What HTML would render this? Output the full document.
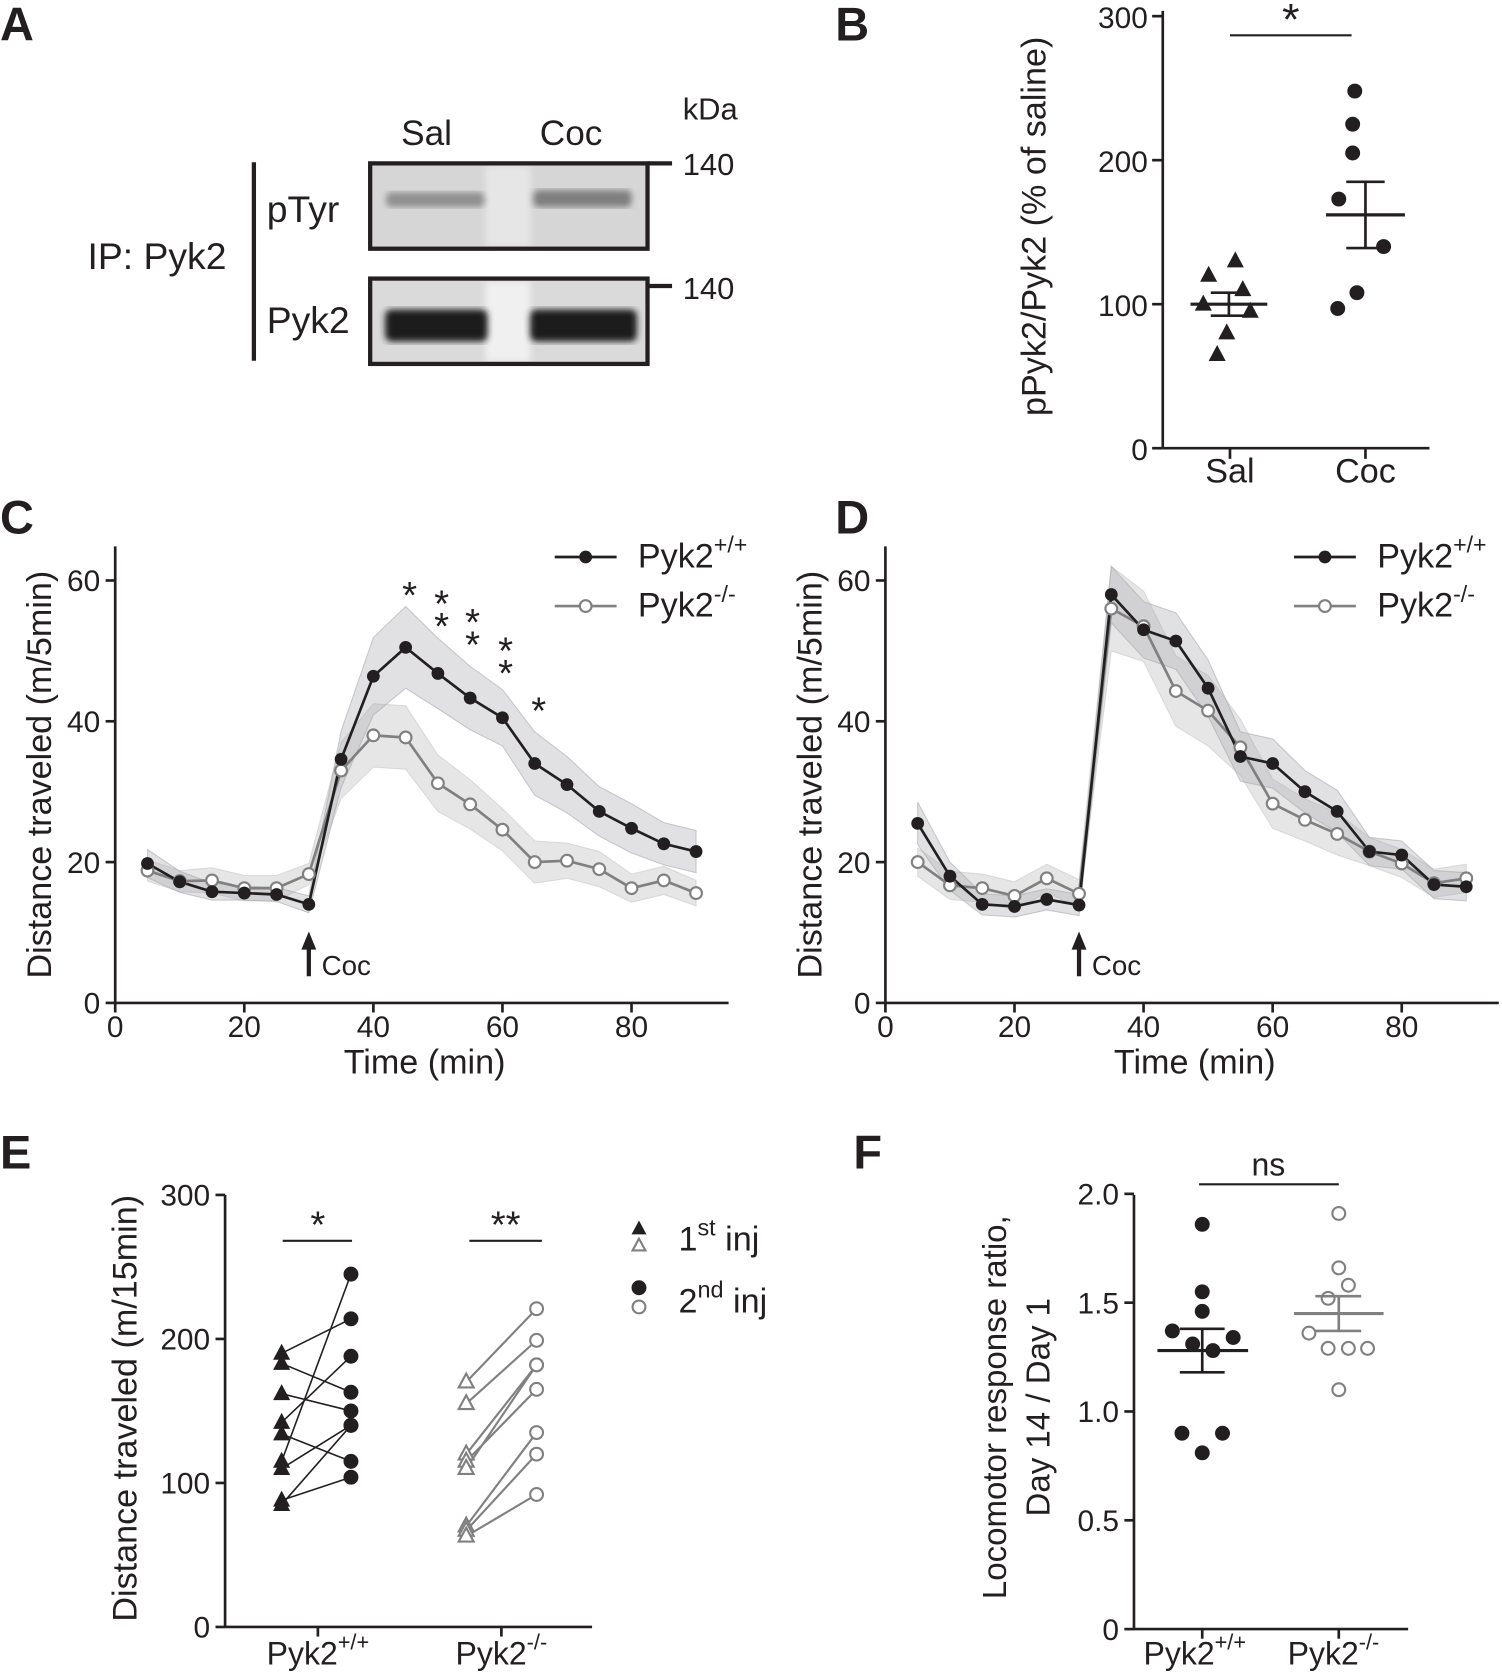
<!DOCTYPE html><html><head><meta charset="utf-8"><style>html,body{margin:0;padding:0;background:#fff}svg{display:block}text{font-family:"Liberation Sans",Arial,sans-serif;fill:#231f20}</style></head><body>
<svg id="s" width="1502" height="1673" viewBox="0 0 1408 1568" xmlns="http://www.w3.org/2000/svg">
<defs>
<filter id="bl"><feGaussianBlur stdDeviation="3"/></filter>
</defs>
<g font-weight="bold" font-size="44">
<text x="0" y="38">A</text><text x="783" y="38">B</text><text x="0" y="500">C</text><text x="783" y="500">D</text><text x="0" y="1095">E</text><text x="800" y="1095">F</text>
</g>
<!-- Panel A -->
<g font-size="33">
<text x="376" y="136">Sal</text><text x="506" y="136">Coc</text><text x="640" y="112" font-size="29">kDa</text>
<text x="640" y="164" font-size="29">140</text><text x="640" y="280" font-size="29">140</text>
<text x="82" y="252" font-size="35">IP: Pyk2</text><text x="250" y="208" font-size="35">pTyr</text><text x="250" y="312" font-size="35">Pyk2</text>
</g>
<line x1="238" y1="152" x2="238" y2="338" stroke="#231f20" stroke-width="4"/>
<rect x="347" y="153" width="260" height="80" fill="#d6d6d6"/>
<rect x="455" y="156" width="42" height="75" fill="#e6e6e6" filter="url(#bl)"/>
<rect x="362" y="180" width="92" height="14" fill="#909090" rx="5" filter="url(#bl)"/><rect x="500" y="178" width="92" height="16" fill="#7f7f7f" rx="5" filter="url(#bl)"/>
<rect x="347" y="153" width="260" height="80" fill="none" stroke="#231f20" stroke-width="4"/>
<rect x="347" y="261" width="260" height="80" fill="#dadada"/>
<rect x="455" y="264" width="42" height="75" fill="#f0f0f0" filter="url(#bl)"/>
<rect x="361" y="290" width="96" height="30" fill="#1e1e1e" rx="6" filter="url(#bl)"/><rect x="497" y="290" width="100" height="30" fill="#1e1e1e" rx="6" filter="url(#bl)"/>
<rect x="347" y="261" width="260" height="80" fill="none" stroke="#231f20" stroke-width="4"/>
<line x1="607" y1="153" x2="630" y2="153" stroke="#231f20" stroke-width="4"/><line x1="607" y1="268" x2="630" y2="268" stroke="#231f20" stroke-width="4"/>
<g id="plots" stroke-linecap="butt"></g>
</svg>
<script>
const NS="http://www.w3.org/2000/svg",g=document.getElementById("plots");
function el(t,a,txt){const e=document.createElementNS(NS,t);for(const k in a)e.setAttribute(k,a[k]);if(txt!==undefined)e.textContent=txt;g.appendChild(e);return e;}
function line(x1,y1,x2,y2,c="#231f20",w=2.5){el("line",{x1,y1,x2,y2,stroke:c,"stroke-width":w});}
function txt(x,y,s,fs=28,anchor="middle",rot){const a={x,y,"font-size":fs,"text-anchor":anchor};if(rot)a.transform=`rotate(-90 ${x} ${y})`;return el("text",a,s);}
function sup(x,y,base,sp,fs,anchor){const t=el("text",{x,y,"font-size":fs,"text-anchor":anchor});t.innerHTML=base+`<tspan dy="-14" font-size="${fs*0.68}">${sp}</tspan>`;}
// ---- Panel B
(function(){const X=1090,Y0=420,k=1.35,Y=v=>Y0-v*k;
line(X,10,X,Y0);line(X,Y0,1340,Y0);
[0,100,200,300].forEach(v=>{line(X-10,Y(v),X,Y(v));txt(X-14,Y(v)+11,v,28,"end");});
line(1153,Y0,1153,Y0+10);line(1280,Y0,1280,Y0+10);
txt(1153,452,"Sal",32);txt(1280,452,"Coc",32);
txt(980,212,"pPyk2/Pyk2 (% of saline)",32,"middle",1);
line(1153,33,1267,33,"#231f20",2);txt(1210,32,"*",42);
const tri=[[1158,130],[1133,120],[1165,110],[1128,100],[1172,95],[1150,80],[1141,65]];
tri.forEach(([x,v])=>{const y=Y(v);el("polygon",{points:`${x},${y-9} ${x-8},${y+6} ${x+8},${y+6}`,fill:"#231f20"});});
[[1270,248],[1268,225],[1268,205],[1255,173],[1297,140],[1272,108],[1254,97]].forEach(([x,v])=>el("circle",{cx:x,cy:Y(v),r:7,fill:"#231f20"}));
line(1116,Y(100),1188,Y(100),"#231f20",3);line(1135,Y(92),1169,Y(92));line(1135,Y(108),1169,Y(108));line(1152,Y(92),1152,Y(108));
line(1243,Y(162),1317,Y(162),"#231f20",3);line(1262,Y(139),1298,Y(139));line(1262,Y(185),1298,Y(185));line(1280,Y(139),1280,Y(185));
})();
// ---- Panels C & D
function tc(X0,b,gr,bb,gb,stars,legX){const Y0=940,kx=6.05,ky=6.6,X=m=>X0+m*kx,Y=v=>Y0-v*ky,xe=X0+575;
const ts=b.map((_,i)=>5+5*i);
function band(d,w,col,op){const up=d.map((v,i)=>`${X(ts[i])},${Y(v+w[i])}`),lo=d.map((v,i)=>`${X(ts[i])},${Y(v-w[i])}`).reverse();el("polygon",{points:up.concat(lo).join(" "),fill:col,"fill-opacity":op,stroke:col,"stroke-opacity":0.6});}
band(gr,gb,"#c8c8c8",0.45);band(b,bb,"#a8aab0",0.35);
el("polyline",{points:gr.map((v,i)=>`${X(ts[i])},${Y(v)}`).join(" "),fill:"none",stroke:"#808080","stroke-width":2.5});
el("polyline",{points:b.map((v,i)=>`${X(ts[i])},${Y(v)}`).join(" "),fill:"none",stroke:"#231f20","stroke-width":2.5});
gr.forEach((v,i)=>el("circle",{cx:X(ts[i]),cy:Y(v),r:5.5,fill:"#fff",stroke:"#808080","stroke-width":2}));
b.forEach((v,i)=>el("circle",{cx:X(ts[i]),cy:Y(v),r:6,fill:"#231f20"}));
line(X0,512,X0,Y0);line(X0,Y0,xe,Y0);
[0,20,40,60,80].forEach(m=>{line(X(m),Y0,X(m),Y0+9);txt(X(m),Y0+32,m,28);});
[0,20,40,60].forEach(v=>{line(X0-9,Y(v),X0,Y(v));txt(X0-14,Y(v)+10,v,28,"end");});
txt(X0+290,1006,"Time (min)",32);txt(X0-60,726,"Distance traveled (m/5min)",32,"middle",1);
el("polygon",{points:`${X(30)},873 ${X(30)-7},890 ${X(30)+7},890`,fill:"#231f20"});line(X(30),885,X(30),915,"#231f20",4);
txt(X(30)+12,914,"Coc",26,"start");
stars.forEach(([x,y])=>txt(x,y,"*",36));
line(legX,522,legX+58,522,"#231f20",2.5);el("circle",{cx:legX+29,cy:522,r:6,fill:"#231f20"});
line(legX,568,legX+58,568,"#808080",2.5);el("circle",{cx:legX+29,cy:568,r:5.5,fill:"#fff",stroke:"#808080","stroke-width":2});
sup(legX+78,532,"Pyk2","+/+",32,"start");sup(legX+78,578,"Pyk2","-/-",32,"start");}
tc(108,[19.8,17.2,15.8,15.6,15.4,14,34.6,46.4,50.5,46.8,43.3,40.5,34,31,27.2,24.8,22.6,21.5],
[18.8,17.3,17.4,16.3,16.3,18.3,33,38,37.7,31.2,28.2,24.6,20,20.2,19,16.3,17.4,15.6],
[2,1.5,1.2,1,1,1.2,4,5.5,5.8,5,4.5,4,4.5,4,3.5,3.5,3,3],
[1.5,1.5,1.8,1.8,1.8,1.5,4,4.5,4.5,4,3.5,3,3,2.5,2.5,2,2,1.8],
[[384,570],[414,578],[414,599],[443,595],[443,616],[474,622],[474,643],[505,678]],520);
tc(830,[25.5,18,14,13.7,14.7,13.9,58,53,51.4,44.7,35,34,30,27.2,21.5,21,16.8,16.5],
[20,16.7,16.3,15.2,17.7,15.5,56,53.5,44.3,41.5,36.3,28.3,26,24,21.5,19.8,17,17.7],
[3,2,1.5,1.5,1.5,1.5,4,4,4,4,3.5,3.5,3,3,2,2,2,2],
[2,2,2,2,2,2,6,5,5,5,4,3.5,3,3,2,2,2,2],[],1213);
// ---- Panel E
(function(){const X=211,Y0=1525,k=1.35,Y=v=>Y0-v*k;
line(X,1120,X,Y0);line(X,Y0,555,Y0);
[0,100,200,300].forEach(v=>{line(X-9,Y(v),X,Y(v));txt(X-14,Y(v)+10,v,28,"end");});
line(298,Y0,298,Y0+9);line(470,Y0,470,Y0+9);
sup(298,1560,"Pyk2","+/+",30,"middle");sup(470,1560,"Pyk2","-/-",30,"middle");
txt(128,1320,"Distance traveled (m/15min)",32,"middle",1);
line(265,1163,330,1163,"#231f20",2);txt(298,1160,"*",36);line(440,1163,508,1163,"#231f20",2);txt(474,1160,"**",36);
const A=[[190,214],[183,163],[162,150],[142,188],[134,115],[115,245],[110,140],[88,104],[85,140]];
A.forEach(([a,b])=>line(264,Y(a),329,Y(b),"#231f20",1.5));
A.forEach(([a,b])=>{const y=Y(a);el("polygon",{points:`264,${y-9} 256,${y+6} 272,${y+6}`,fill:"#231f20"});el("circle",{cx:329,cy:Y(b),r:7,fill:"#231f20"});});
const B=[[170,221],[155,199],[120,182],[115,165],[110,182],[70,135],[67,120],[63,92]];
B.forEach(([a,b])=>line(437,Y(a),503,Y(b),"#808080",2));
B.forEach(([a,b])=>{const y=Y(a);el("polygon",{points:`437,${y-8} 430,${y+5} 444,${y+5}`,fill:"#fff",stroke:"#808080","stroke-width":2});el("circle",{cx:503,cy:Y(b),r:6,fill:"#fff",stroke:"#808080","stroke-width":2});});
el("polygon",{points:"599,1144 592,1157 606,1157",fill:"#231f20"});el("polygon",{points:"599,1161 593,1172 605,1172",fill:"#fff",stroke:"#808080","stroke-width":2});
el("circle",{cx:599,cy:1207,r:7,fill:"#231f20"});el("circle",{cx:599,cy:1225,r:6,fill:"#fff",stroke:"#808080","stroke-width":2});
const t1=el("text",{x:636,y:1172,"font-size":32});t1.innerHTML='1<tspan dy="-14" font-size="22">st</tspan><tspan dy="14"> inj</tspan>';
const t2=el("text",{x:636,y:1230,"font-size":32});t2.innerHTML='2<tspan dy="-14" font-size="22">nd</tspan><tspan dy="14"> inj</tspan>';
})();
// ---- Panel F
(function(){const X=1063,Y0=1527,k=204,Y=v=>Y0-v*k;
line(X,1120,X,Y0);line(X,Y0,1320,Y0);
[0,0.5,1,1.5,2].forEach(v=>{line(X-9,Y(v),X,Y(v));txt(X-14,Y(v)+10,v===0?"0":v.toFixed(1),28,"end");});
line(1127,Y0,1127,Y0+9);line(1255,Y0,1255,Y0+9);
sup(1120,1560,"Pyk2","+/+",30,"middle");sup(1250,1560,"Pyk2","-/-",30,"middle");
txt(943,1319,"Locomotor response ratio,",31,"middle",1);txt(984,1319,"Day 14 / Day 1",31,"middle",1);
line(1124,1110,1255,1110,"#231f20",2);txt(1189,1102,"ns",30);
[[1127,1.86],[1127,1.55],[1127,1.46],[1099,1.37],[1156,1.34],[1118,1.31],[1137,1.28],[1108,0.9],[1146,0.9],[1127,0.81]].forEach(([x,v])=>el("circle",{cx:x,cy:Y(v),r:7,fill:"#231f20"}));
[[1255,1.91],[1255,1.66],[1264,1.58],[1245,1.52],[1227,1.36],[1245,1.29],[1264,1.29],[1282,1.29],[1255,1.1]].forEach(([x,v])=>el("circle",{cx:x,cy:Y(v),r:6,fill:"#fff",stroke:"#808080","stroke-width":2}));
line(1085,Y(1.28),1170,Y(1.28),"#231f20",3);line(1106,Y(1.18),1148,Y(1.18));line(1106,Y(1.38),1148,Y(1.38));line(1127,Y(1.18),1127,Y(1.38));
line(1213,Y(1.45),1297,Y(1.45),"#808080",3);line(1233,Y(1.37),1276,Y(1.37),"#808080");line(1233,Y(1.53),1276,Y(1.53),"#808080");line(1255,Y(1.37),1255,Y(1.53),"#808080");
})();
</script>
</body></html>
